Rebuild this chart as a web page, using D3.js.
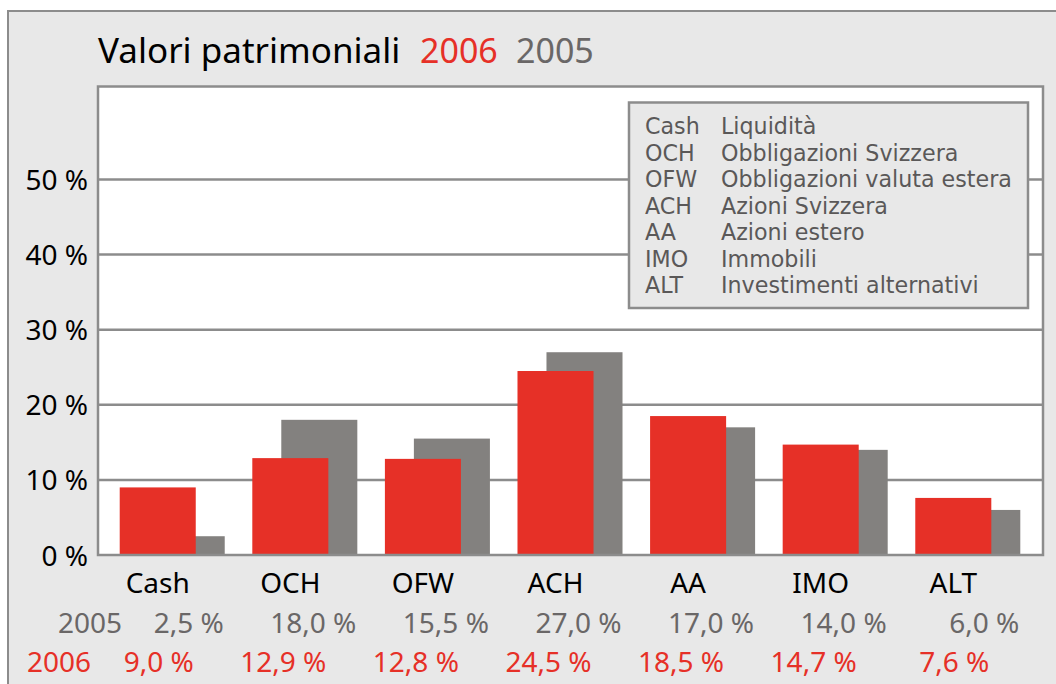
<!DOCTYPE html>
<html>
<head>
<meta charset="utf-8">
<script src="https://cdn.jsdelivr.net/npm/d3@7"></script>
<style>
  html, body { margin: 0; padding: 0; background: #ffffff; }
  svg { display: block; font-family: "Noto Sans", "DejaVu Sans", sans-serif; }
</style>
</head>
<body>
<svg id="chart" width="1056" height="684"></svg>
<script>
// ---- data ----
const categories = ["Cash", "OCH", "OFW", "ACH", "AA", "IMO", "ALT"];
const values2005 = [2.5, 18.0, 15.5, 27.0, 17.0, 14.0, 6.0];
const values2006 = [9.0, 12.9, 12.8, 24.5, 18.5, 14.7, 7.6];
const yTicks = [0, 10, 20, 30, 40, 50];
const legendCodes = ["Cash", "OCH", "OFW", "ACH", "AA", "IMO", "ALT"];
const legendNames = ["Liquidità", "Obbligazioni Svizzera", "Obbligazioni valuta estera",
  "Azioni Svizzera", "Azioni estero", "Immobili", "Investimenti alternativi"];
const titleText = "Valori patrimoniali";
const seriesNames = ["2006", "2005"];

// ---- styles ----
const RED = "#e63027";
const GREY_BAR = "#83817f";
const GREY_TXT = "#6a6767";
const LINE = "#8c8c8c";
const BG = "#e8e8e8";

const svg = d3.select("#chart");
const plot = { left: 98, right: 1043, top: 86.5, bottom: 555 };

// outer frame
svg.append("rect").attr("x", 8).attr("y", 11).attr("width", 1100).attr("height", 700)
  .attr("fill", BG).attr("stroke", LINE).attr("stroke-width", 2);

// scales
const y = d3.scaleLinear().domain([0, 50]).range([plot.bottom, 179.5]);
const x = d3.scaleBand().domain(categories).range([plot.left - 0.5, plot.right - 0.5])
  .paddingInner(0.208).paddingOuter(0.1675);
const bw = x.bandwidth();
const barW = bw * 0.724;
const grayOff = bw - barW;

// plot background
svg.append("rect").attr("x", plot.left).attr("y", plot.top)
  .attr("width", plot.right - plot.left).attr("height", plot.bottom - plot.top)
  .attr("fill", "#ffffff");

// gridlines
svg.append("g").selectAll("line").data(yTicks.filter(d => d > 0)).join("line")
  .attr("x1", plot.left).attr("x2", plot.right)
  .attr("y1", d => y(d)).attr("y2", d => y(d))
  .attr("stroke", LINE).attr("stroke-width", 2.5);

// y axis labels
const yAxis = d3.axisLeft(y).tickValues(yTicks).tickSize(0).tickPadding(10)
  .tickFormat(d => d + " %");
const ya = svg.append("g").attr("transform", `translate(${plot.left},0)`).call(yAxis);
ya.select(".domain").remove();
ya.selectAll("text").attr("font-size", 28).attr("fill", "#000")
  .attr("font-family", "'Noto Sans', sans-serif").attr("dy", "0.36em");

// bars: 2005 behind, 2006 in front
svg.append("g").selectAll("rect").data(categories).join("rect")
  .attr("x", d => x(d) + grayOff).attr("width", barW)
  .attr("y", (d, i) => y(values2005[i]))
  .attr("height", (d, i) => y(0) - y(values2005[i]))
  .attr("fill", GREY_BAR);
svg.append("g").selectAll("rect").data(categories).join("rect")
  .attr("x", d => x(d)).attr("width", barW)
  .attr("y", (d, i) => y(values2006[i]))
  .attr("height", (d, i) => y(0) - y(values2006[i]))
  .attr("fill", RED);

// plot frame
svg.append("rect").attr("x", plot.left).attr("y", plot.top)
  .attr("width", plot.right - plot.left).attr("height", plot.bottom - plot.top)
  .attr("fill", "none").attr("stroke", LINE).attr("stroke-width", 2.5);

// legend box
const lg = svg.append("g").attr("font-family", "'DejaVu Sans', 'Noto Sans', sans-serif");
lg.append("rect").attr("x", 629).attr("y", 102.5).attr("width", 399).attr("height", 205.5)
  .attr("fill", BG).attr("stroke", LINE).attr("stroke-width", 2.5);
lg.selectAll("text.code").data(legendCodes).join("text").attr("class", "code")
  .attr("x", 645).attr("y", (d, i) => 134 + i * 26.5)
  .attr("font-size", 22.2).attr("fill", "#5a5858").text(d => d);
lg.selectAll("text.name").data(legendNames).join("text").attr("class", "name")
  .attr("x", 721).attr("y", (d, i) => 134 + i * 26.5)
  .attr("font-size", 22.2).attr("fill", "#5a5858").text(d => d);

// title
svg.append("text").attr("x", 98).attr("y", 63).attr("font-size", 35).attr("fill", "#000").text(titleText);
svg.append("text").attr("x", 420).attr("y", 63).attr("font-size", 34).attr("fill", RED).text(seriesNames[0]);
svg.append("text").attr("x", 516).attr("y", 63).attr("font-size", 34).attr("fill", GREY_TXT).text(seriesNames[1]);

// category labels
svg.append("g").selectAll("text").data(categories).join("text")
  .attr("x", d => x(d) + barW / 2).attr("y", 593)
  .attr("text-anchor", "middle").attr("font-size", 28).attr("fill", "#000").text(d => d);

// value rows
const fmt = d3.formatLocale({ decimal: ",", thousands: ".", grouping: [3], currency: ["", ""] }).format(".1f");
svg.append("text").attr("x", 122).attr("y", 633).attr("text-anchor", "end")
  .attr("font-size", 28).attr("fill", GREY_TXT).text(seriesNames[1]);
svg.append("text").attr("x", 91).attr("y", 672).attr("text-anchor", "end")
  .attr("font-size", 28).attr("fill", RED).text(seriesNames[0]);
svg.append("g").selectAll("text").data(categories).join("text")
  .attr("x", d => x(d) + bw - 1).attr("y", 633).attr("text-anchor", "end")
  .attr("font-size", 28).attr("fill", GREY_TXT)
  .text((d, i) => fmt(values2005[i]) + " %");
svg.append("g").selectAll("text").data(categories).join("text")
  .attr("x", d => x(d) + barW - 2).attr("y", 672).attr("text-anchor", "end")
  .attr("font-size", 28).attr("fill", RED)
  .text((d, i) => fmt(values2006[i]) + " %");
</script>
</body>
</html>
